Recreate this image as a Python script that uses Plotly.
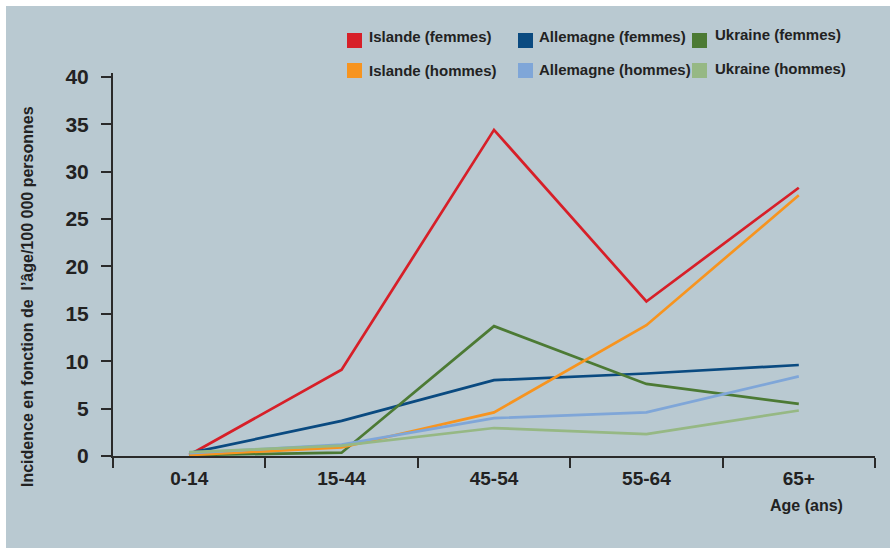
import plotly.graph_objects as go

# Age groups on the x axis
age_groups = ["0-14", "15-44", "45-54", "55-64", "65+"]

# Incidence per 100 000 persons, by country and sex
islande_femmes = [0.1, 9.1, 34.4, 16.3, 28.3]
islande_hommes = [0.1, 0.9, 4.6, 13.8, 27.5]
allemagne_femmes = [0.3, 3.7, 8.0, 8.7, 9.6]
allemagne_hommes = [0.3, 1.2, 4.0, 4.6, 8.4]
ukraine_femmes = [0.1, 0.35, 13.7, 7.6, 5.5]
ukraine_hommes = [0.4, 1.1, 2.95, 2.3, 4.8]

y_ticks = [0, 5, 10, 15, 20, 25, 30, 35, 40]

series = [
    ("Islande (femmes)", islande_femmes, "#d71f28"),
    ("Allemagne (femmes)", allemagne_femmes, "#0a4a80"),
    ("Ukraine (femmes)", ukraine_femmes, "#4c7a34"),
    ("Islande (hommes)", islande_hommes, "#f7941f"),
    ("Allemagne (hommes)", allemagne_hommes, "#7fa6d8"),
    ("Ukraine (hommes)", ukraine_hommes, "#96b884"),
]

W, H = 890, 548
ML, MR, MT, MB = 113, 15, 73, 92
PW, PH = W - ML - MR, H - MT - MB


def px_x(p):
    return (p - ML) / PW


def px_y(p):
    return (H - MB - p) / PH


BG = "#b9c9d1"
INK = "#222222"
FONT = "Liberation Sans, Arial, sans-serif"

fig = go.Figure()
for name, vals, color in series:
    fig.add_trace(go.Scatter(
        x=age_groups, y=vals, mode="lines", name=name,
        line=dict(color=color, width=2.7), showlegend=False,
    ))

shapes = [
    dict(type="rect", xref="paper", yref="paper", layer="below",
         x0=px_x(6), x1=px_x(W + 2), y0=px_y(H + 2), y1=px_y(6),
         fillcolor=BG, line=dict(width=0)),
]
annotations = []

# Legend: two rows of coloured squares with labels
sq_x = [347, 518, 692]
txt_x = [367, 537, 713]
sq_y = [33, 63]
txt_y = [[36.5, 36, 35], [70, 69.5, 68]]
for i, (name, vals, color) in enumerate(series):
    row, col = divmod(i, 3)
    shapes.append(dict(
        type="rect", xref="paper", yref="paper",
        x0=px_x(sq_x[col]), x1=px_x(sq_x[col] + 15),
        y0=px_y(sq_y[row] + 15), y1=px_y(sq_y[row]),
        fillcolor=color, line=dict(width=0),
    ))
    annotations.append(dict(
        text=name, xref="paper", yref="paper",
        x=px_x(txt_x[col]), y=px_y(txt_y[row][col]),
        xanchor="left", yanchor="middle", showarrow=False,
        font=dict(family=FONT, size=15, color=INK, weight="bold"),
    ))

annotations.append(dict(
    text="Incidence en fonction de  l’âge/100 000 personnes",
    xref="paper", yref="paper", x=px_x(27), y=px_y(297),
    textangle=-90, showarrow=False, xanchor="center", yanchor="middle",
    font=dict(family=FONT, size=16, color=INK, weight="bold"),
))
annotations.append(dict(
    text="Age (ans)", xref="paper", yref="paper", x=px_x(806), y=px_y(505),
    showarrow=False, xanchor="center", yanchor="middle",
    font=dict(family=FONT, size=16, color=INK, weight="bold"),
))

fig.update_layout(
    width=W, height=H,
    margin=dict(l=ML, r=MR, t=MT, b=MB, pad=0),
    paper_bgcolor="white", plot_bgcolor=BG,
    shapes=shapes, annotations=annotations,
    showlegend=False,
)
fig.update_xaxes(
    type="category", range=[-0.5, 4.5], tickson="boundaries",
    showline=True, linecolor="#2a2a2a", linewidth=2,
    ticks="outside", ticklen=10, tickwidth=1.5, tickcolor="#2a2a2a",
    showgrid=False, zeroline=False,
    tickfont=dict(family=FONT, size=19, color=INK, weight="bold"),
    ticklabelstandoff=4,
)
fig.update_yaxes(
    range=[0, 40.4], tickvals=y_ticks,
    showline=True, linecolor="#2a2a2a", linewidth=2,
    ticks="outside", ticklen=10, tickwidth=1.5, tickcolor="#2a2a2a",
    showgrid=False, zeroline=False,
    tickfont=dict(family=FONT, size=21, color=INK, weight="bold"),
    ticklabelstandoff=8,
)

fig.write_html("out.html")
